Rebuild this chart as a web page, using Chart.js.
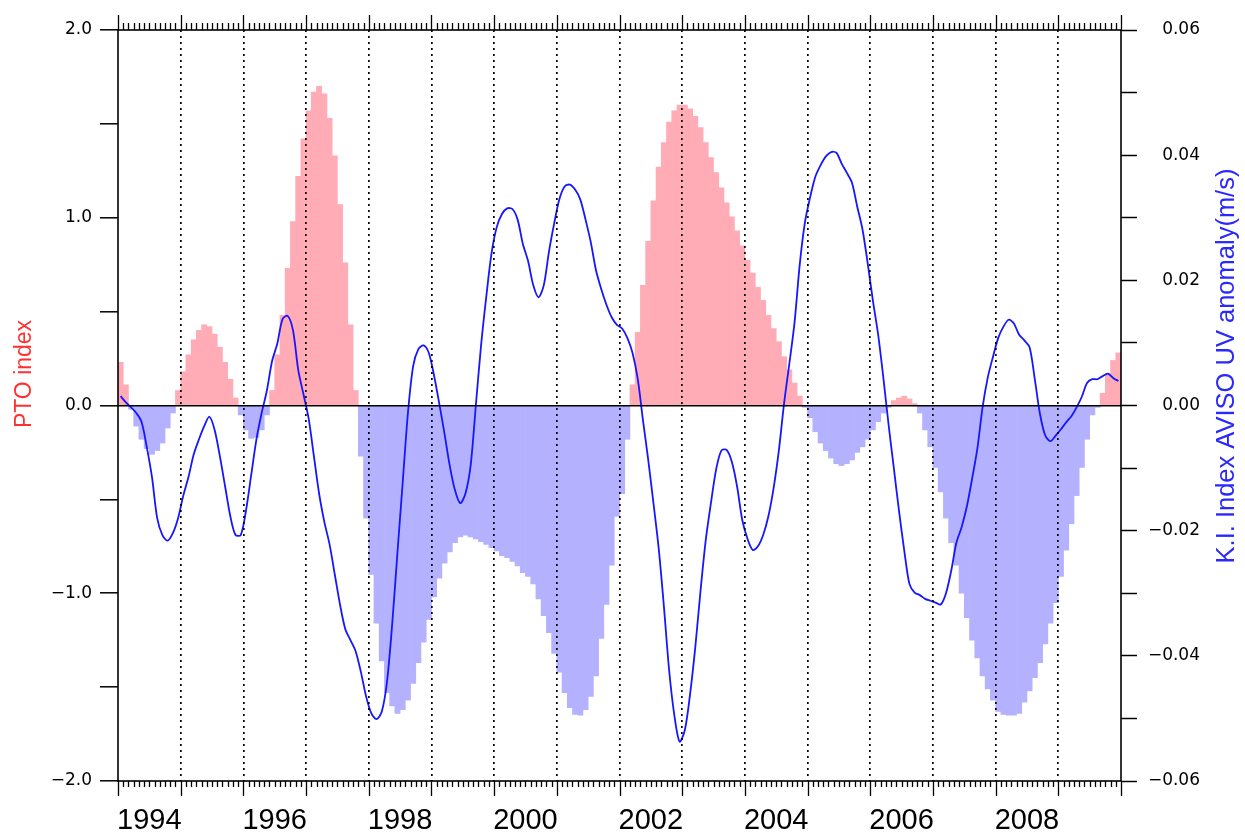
<!DOCTYPE html>
<html>
<head>
<meta charset="utf-8">
<title>PTO index and K.I. index</title>
<script src="https://cdn.jsdelivr.net/npm/chart.js@4.4.1/dist/chart.umd.min.js"></script>
<style>
  html, body { margin: 0; padding: 0; background: #ffffff; }
  #wrap { width: 1245px; height: 837px; }
</style>
</head>
<body>
<div id="wrap"><canvas id="chart" width="1245" height="837"></canvas></div>
<script>
// Monthly series, January 1994 to December 2009
const startYear = 1994;
const endYear = 2010;

// PTO index (left axis), one bar per month
const ptoIndex = [
  0.23, 0.11, -0.02, -0.11, -0.18, -0.23, -0.26, -0.24, -0.20, -0.12, -0.04, 0.08,        // 1994
  0.18, 0.27, 0.35, 0.40, 0.43, 0.42, 0.38, 0.31, 0.23, 0.14, 0.04, -0.05,                // 1995
  -0.13, -0.175, -0.17, -0.13, -0.05, 0.08, 0.27, 0.48, 0.73, 0.98, 1.22, 1.42,           // 1996
  1.57, 1.67, 1.70, 1.66, 1.53, 1.33, 1.07, 0.76, 0.43, 0.08, -0.27, -0.60,               // 1997
  -0.90, -1.16, -1.36, -1.53, -1.60, -1.64, -1.62, -1.57, -1.48, -1.37, -1.26, -1.14,     // 1998
  -1.02, -0.92, -0.84, -0.78, -0.73, -0.70, -0.69, -0.70, -0.71, -0.725, -0.74, -0.757,  // 1999
  -0.775, -0.80, -0.81, -0.83, -0.855, -0.89, -0.91, -0.95, -1.03, -1.12, -1.21, -1.32,  // 2000
  -1.42, -1.53, -1.61, -1.645, -1.65, -1.62, -1.55, -1.44, -1.24, -1.06, -0.85, -0.59,   // 2001
  -0.47, -0.18, 0.11, 0.39, 0.64, 0.875, 1.09, 1.27, 1.40, 1.51, 1.57, 1.60,              // 2002
  1.60, 1.58, 1.54, 1.48, 1.40, 1.32, 1.24, 1.16, 1.08, 1.005, 0.93, 0.85,                // 2003
  0.775, 0.705, 0.63, 0.56, 0.48, 0.41, 0.34, 0.26, 0.19, 0.12, 0.05, -0.01,              // 2004
  -0.065, -0.14, -0.20, -0.24, -0.28, -0.31, -0.32, -0.31, -0.29, -0.25, -0.22, -0.18,   // 2005
  -0.13, -0.086, -0.04, -0.01, 0.026, 0.04, 0.05, 0.035, 0.01, -0.04, -0.13, -0.22,      // 2006
  -0.33, -0.46, -0.60, -0.73, -0.85, -1.00, -1.13, -1.25, -1.345, -1.44, -1.51, -1.57,   // 2007
  -1.63, -1.645, -1.65, -1.65, -1.64, -1.58, -1.52, -1.45, -1.37, -1.27, -1.16, -1.05,   // 2008
  -0.91, -0.77, -0.63, -0.48, -0.33, -0.18, -0.05, -0.01, 0.065, 0.17, 0.24, 0.28        // 2009
];

// K.I. index, AVISO UV anomaly in m/s (right axis)
const kiIndex = [
  0.0015, 0.0005, -0.0003, -0.0012, -0.0026, -0.0066, -0.0114, -0.0180, -0.0207, -0.0216, -0.0204, -0.0180, // 1994
  -0.0144, -0.0114, -0.0078, -0.0054, -0.0033, -0.0018, -0.0039, -0.0081, -0.0129, -0.0177, -0.0207, -0.0207, // 1995
  -0.0168, -0.0111, -0.0054, -0.0012, 0.0024, 0.0071, 0.0099, 0.0138, 0.0143, 0.0120, 0.0057, 0.0018,      // 1996
  -0.0021, -0.0081, -0.0141, -0.0186, -0.0222, -0.0270, -0.0318, -0.0357, -0.0375, -0.0393, -0.0426, -0.0465, // 1997
  -0.0492, -0.0501, -0.0489, -0.0441, -0.0348, -0.0234, -0.0123, -0.0012, 0.0063, 0.0090, 0.0096, 0.0084,   // 1998
  0.0048, 0.0003, -0.0045, -0.0096, -0.0135, -0.0156, -0.0141, -0.0096, 0.0000, 0.0096, 0.0174, 0.0243,     // 1999
  0.0285, 0.0306, 0.0315, 0.0314, 0.0297, 0.0258, 0.0231, 0.0192, 0.0173, 0.0192, 0.0246, 0.0291,          // 2000
  0.0330, 0.0350, 0.0353, 0.0345, 0.0329, 0.0297, 0.0261, 0.0216, 0.0186, 0.0161, 0.0141, 0.0129,          // 2001
  0.0123, 0.0108, 0.0084, 0.0042, -0.0024, -0.0087, -0.0156, -0.0228, -0.0321, -0.0423, -0.0495, -0.0537,  // 2002
  -0.0519, -0.0462, -0.0387, -0.0297, -0.0216, -0.0156, -0.0102, -0.0072, -0.0071, -0.0090, -0.0129, -0.0183, // 2003
  -0.0213, -0.0231, -0.0225, -0.0207, -0.0177, -0.0132, -0.0072, 0.0003, 0.0066, 0.0132, 0.0225, 0.0293,   // 2004
  0.0333, 0.0366, 0.0384, 0.0398, 0.0405, 0.0404, 0.0387, 0.0372, 0.0356, 0.0318, 0.0282, 0.0228,          // 2005
  0.0168, 0.0114, 0.0045, -0.0030, -0.0099, -0.0168, -0.0231, -0.0285, -0.0299, -0.0303, -0.0309, -0.0312,  // 2006
  -0.0315, -0.0318, -0.0300, -0.0264, -0.0219, -0.0194, -0.0161, -0.0117, -0.0069, -0.0003, 0.0045, 0.0078, // 2007
  0.0108, 0.0126, 0.0137, 0.0131, 0.0113, 0.0104, 0.0093, 0.0042, -0.0014, -0.0048, -0.0057, -0.0048,      // 2008
  -0.0038, -0.0027, -0.0017, -0.0003, 0.0014, 0.0036, 0.0042, 0.0042, 0.0047, 0.0051, 0.0044, 0.0039       // 2009
];

// Axis labels
const yearLabels = [1994, 1996, 1998, 2000, 2002, 2004, 2006, 2008];
const ptoTicks = [-2, -1.5, -1, -0.5, 0, 0.5, 1, 1.5, 2];
const kiTicks = [-0.06, -0.05, -0.04, -0.03, -0.02, -0.01, 0, 0.01, 0.02, 0.03, 0.04, 0.05, 0.06];
const ptoTitle = 'PTO index';
const kiTitle = 'K.I. Index AVISO UV anomaly(m/s)';

// month centres in decimal years
const monthX = ptoIndex.map((_, i) => startYear + (i + 0.5) / 12);

const pinkFill = 'rgb(255,172,182)';
const lilacFill = 'rgb(180,178,255)';
const kiBlue = 'rgb(22,22,255)';
const tickFont = { family: '"DejaVu Sans", sans-serif', size: 17 };

function signed(v, digits) {
  const s = Math.abs(v).toFixed(digits);
  return (v < -1e-9 ? '\u2212' : '') + s;
}

// x ticks: every year boundary (for dotted lines) plus mid-year label positions
function buildXTicks() {
  const t = [];
  for (let y = startYear; y < endYear; y++) {
    t.push({ value: y });
    if (yearLabels.includes(y)) t.push({ value: y + 0.5 });
  }
  t.push({ value: endYear });
  return t;
}

function drawVerticalText(ctx, text, x, y, font, color) {
  ctx.save();
  ctx.translate(x, y);
  ctx.rotate(-Math.PI / 2);
  ctx.fillStyle = color;
  ctx.font = font;
  ctx.textAlign = 'center';
  ctx.textBaseline = 'middle';
  ctx.fillText(text, 0, 0);
  ctx.restore();
}

// frame, monthly/yearly tick marks on top and bottom, axis titles
const frameAndTicks = {
  id: 'frameAndTicks',
  afterDraw(chart) {
    const { ctx, chartArea: a, scales } = chart;
    const x = scales.x;
    ctx.save();
    ctx.strokeStyle = '#000';
    ctx.lineWidth = 1.6;
    ctx.strokeRect(a.left, a.top, a.right - a.left, a.bottom - a.top);
    ctx.lineWidth = 1.3;
    ctx.beginPath();
    const months = (endYear - startYear) * 12;
    for (let k = 0; k <= months; k++) {
      const px = Math.round(x.getPixelForValue(startYear + k / 12)) + 0.5;
      const major = k % 12 === 0;
      ctx.moveTo(px, a.top);
      ctx.lineTo(px, a.top - (major ? 15 : 7));
      ctx.moveTo(px, a.bottom);
      ctx.lineTo(px, a.bottom + (major ? 15 : 6));
    }
    ctx.stroke();
    ctx.restore();

    drawVerticalText(ctx, ptoTitle, 25, 374, '23px "Liberation Sans", Arial, sans-serif', 'rgb(255,48,48)');
    drawVerticalText(ctx, kiTitle, 1227, 366, '25.5px "Liberation Sans", Arial, sans-serif', 'rgb(40,40,255)');
  }
};

new Chart(document.getElementById('chart'), {
  type: 'bar',
  data: {
    datasets: [
      {
        type: 'line',
        label: kiTitle,
        data: monthX.map((x, i) => ({ x, y: kiIndex[i] })),
        yAxisID: 'y2',
        borderColor: kiBlue,
        borderWidth: 1.8,
        pointRadius: 0,
        tension: 0.3,
        fill: false,
        order: 0
      },
      {
        type: 'bar',
        label: ptoTitle,
        data: monthX.map((x, i) => ({ x, y: ptoIndex[i] })),
        yAxisID: 'y',
        backgroundColor: ctx => (ctx.raw && ctx.raw.y >= 0 ? pinkFill : lilacFill),
        borderWidth: 0,
        barPercentage: 1,
        categoryPercentage: 1,
        order: 1
      }
    ]
  },
  options: {
    responsive: false,
    devicePixelRatio: 1,
    animation: false,
    layout: { padding: { top: 30, left: 0, right: 45, bottom: 0 } },
    plugins: { legend: { display: false }, tooltip: { enabled: false } },
    scales: {
      x: {
        type: 'linear',
        position: 'bottom',
        min: startYear,
        max: endYear,
        offset: false,
        afterBuildTicks: s => { s.ticks = buildXTicks(); },
        afterFit: s => { s.height = 56; },
        grid: {
          offset: false,
          drawTicks: false,
          drawOnChartArea: true,
          color: c => (c.tick && Number.isInteger(c.tick.value) && c.tick.value > startYear && c.tick.value < endYear) ? '#000' : 'rgba(0,0,0,0)',
          lineWidth: 1.7,
          z: 1
        },
        border: { display: false, dash: [2, 4] },
        ticks: {
          autoSkip: false,
          maxRotation: 0,
          padding: 23,
          color: '#000',
          font: { family: '"Liberation Sans", Arial, sans-serif', size: 29 },
          callback: v => (Number.isInteger(v) ? '' : String(Math.floor(v)))
        }
      },
      y: {
        type: 'linear',
        position: 'left',
        min: -2,
        max: 2,
        afterBuildTicks: s => { s.ticks = ptoTicks.map(v => ({ value: v })); },
        afterFit: s => { s.width = 118; },
        grid: {
          drawOnChartArea: true,
          color: c => (c.tick && c.tick.value === 0 ? '#000' : 'rgba(0,0,0,0)'),
          lineWidth: 1.6,
          tickLength: 18,
          tickColor: '#000',
          tickWidth: 1.5,
          z: 1
        },
        border: { display: false },
        ticks: {
          padding: 8,
          color: '#000',
          font: tickFont,
          callback: v => (Number.isInteger(v) ? signed(v, 1) : '')
        }
      },
      y2: {
        type: 'linear',
        position: 'right',
        min: -0.06,
        max: 0.06,
        afterBuildTicks: s => { s.ticks = kiTicks.map(v => ({ value: v })); },
        afterFit: s => { s.width = 79; },
        grid: {
          drawOnChartArea: false,
          tickLength: 16,
          tickColor: '#000',
          tickWidth: 1.5
        },
        border: { display: false },
        ticks: {
          padding: 14,
          crossAlign: 'far',
          color: '#000',
          font: tickFont,
          callback: v => (Math.round(v * 100) % 2 === 0 ? signed(v, 2) : '')
        }
      }
    }
  },
  plugins: [frameAndTicks]
});
</script>
</body>
</html>
